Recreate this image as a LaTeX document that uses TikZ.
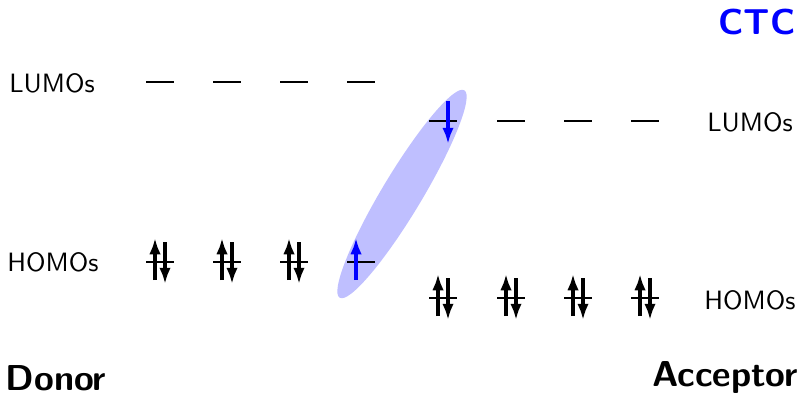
\documentclass[tikz,border=0pt]{standalone}
\usetikzlibrary{arrows.meta}
\begin{document}
\begin{tikzpicture}[x=0.4pt,y=-0.4pt,
  lbl/.style={font=\sffamily\fontsize{10.6}{12}\selectfont},
  ttl/.style={font=\sffamily\bfseries\Large,inner sep=0pt},
  level/.style={line width=0.8pt},
  spin/.style={line width=1.3pt,-{Latex[length=6.5pt,width=4.6pt]}},
  ctc/.style={fill=blue!25}]
\useasboundingbox (0,0) rectangle (797,394);
% charge-transfer ellipse
\begin{scope}[shift={(402,194)},rotate=59]
  \fill[ctc] (0,0) ellipse [x radius=121, y radius=20];
\end{scope}
% labels
\node[lbl] (dl) at (52,83) {LUMOs};
\node[lbl] (dh) at (53,262) {HOMOs};
\node[lbl] (al) at (750,122) {LUMOs};
\node[lbl] (ah) at (750,300) {HOMOs};
\node[ttl] (don) at (56,378) {Donor};
\node[ttl] (acc) at (725,377) {Acceptor};
\node[ttl,text=blue] (ctct) at (757,22) {CTC};
% donor LUMOs
\foreach \x in {146,213,280,347} \draw[level] (\x,82) -- ++(28,0);
% donor HOMOs
\foreach \x in {146,213,280} {
  \draw[level] (\x,262) -- ++(28,0);
  \draw[spin] (\x+9,280) -- (\x+9,238);
  \draw[spin] (\x+19,242) -- (\x+19,284);
}
\draw[level] (347,262) -- ++(28,0);
\draw[spin,blue] (356,280) -- (356,238);
% acceptor LUMOs
\foreach \x in {429,497,564,631} \draw[level] (\x,121) -- ++(28,0);
\draw[spin,blue] (448,101) -- (448,144);
% acceptor HOMOs
\foreach \x in {429,497,564,631} {
  \draw[level] (\x,298) -- ++(28,0);
  \draw[spin] (\x+9,316) -- (\x+9,274);
  \draw[spin] (\x+19,278) -- (\x+19,320);
}
\end{tikzpicture}
\end{document}
